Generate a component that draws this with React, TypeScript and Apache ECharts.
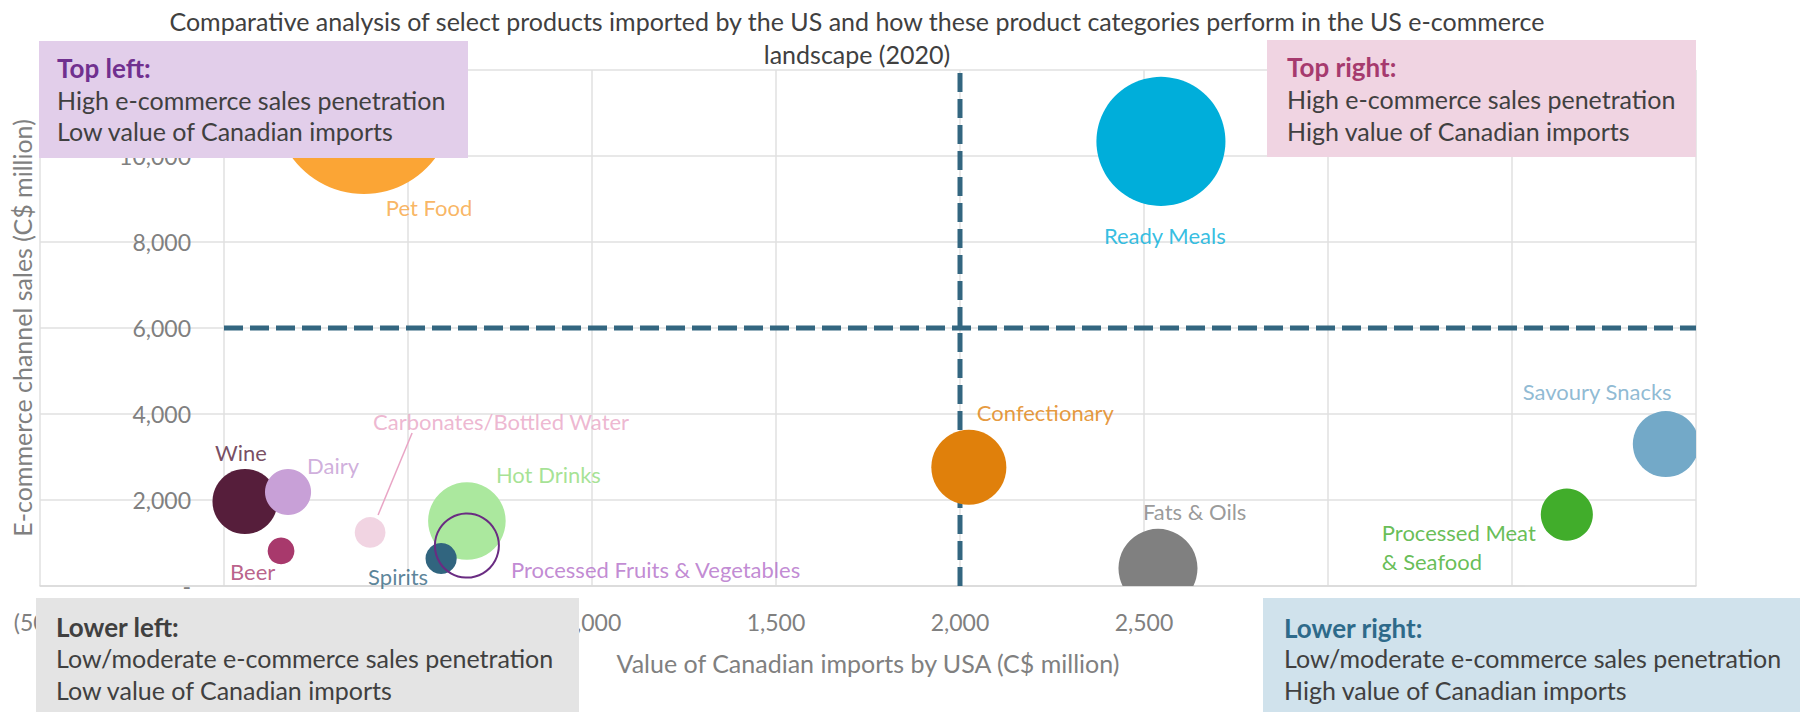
import React, { useEffect, useRef } from "react";
import * as echarts from "echarts";

// ---------- data ----------
const categories = [
  "Pet Food",
  "Ready Meals",
  "Confectionary",
  "Fats & Oils",
  "Savoury Snacks",
  "Processed Meat\n& Seafood",
  "Wine",
  "Dairy",
  "Beer",
  "Carbonates/Bottled Water",
  "Hot Drinks",
  "Spirits",
  "Processed Fruits & Vegetables",
];
// Value of Canadian imports by USA (C$ million)
const importsValue = [380, 2546, 2024, 2538, 3918, 3649, 57, 174, 155, 397, 660, 590, 660];
// E-commerce channel sales (C$ million)
const ecommerceSales = [11190, 10340, 2760, 410, 3300, 1660, 1965, 2185, 815, 1245, 1510, 640, 940];
// bubble size (relative)
const bubbleSize = [1240, 650, 220, 244, 170, 106, 165, 83, 28, 37, 235, 38, 160];

const xMin = -500;
const xMax = 4000;
const xStep = 500;
const yMin = 0;
const yMax = 12000;
const yStep = 2000;

// quadrant dividers
const dividerImports = 2000;
const dividerSales = 6000;

// ---------- styles ----------
const FONT = "Lato";
const bubbleColors = [
  "#FBA535", "#00AEDA", "#E0800B", "#808080", "#73A9C8", "#41AD2B",
  "#561E3B", "#C8A0D7", "#A8396C", "#F1D4E2", "#ABE89E", "#31657F", "none",
];
const bubbleOutline = "#6A2C82";
const labelColors = [
  "#F7A33C", "#00AEDA", "#E0800B", "#808080", "#73A9C8", "#41AD2B",
  "#561E3B", "#C39AD3", "#A8396C", "#E9A5C5", "#8FDB79", "#31657F", "#B26DC8",
];
// label offset from bubble centre: [left edge dx, vertical centre dy]
const labelOffsets: number[][] = [
  [22, 103], [-57, 94.5], [8, -54.5], [-15, -56.5], [-143, -53], [-185, 32],
  [-30, -49.5], [19, -27], [-51, 21], [3, -110.5], [29, -47], [-73, 18.5], [44, 23.5],
];

const fmt = (v: number) => {
  if (v === 0) return "-";
  const s = Math.abs(v).toLocaleString("en-US");
  return v < 0 ? `(${s})` : s;
};

const symbolScale = 5.06;

const boxes = [
  {
    x: 39, y: 41, w: 429, h: 117, fill: "#E2CEEA", tx: 57, ty: [68, 100, 131],
    head: "Top left:", headColor: "#70308F",
    lines: ["High e-commerce sales penetration", "Low value of Canadian imports"],
  },
  {
    x: 1267, y: 40, w: 429, h: 117, fill: "#F0D4E2", tx: 1287, ty: [67, 99, 131],
    head: "Top right:", headColor: "#A63A6E",
    lines: ["High e-commerce sales penetration", "High value of Canadian imports"],
  },
  {
    x: 36, y: 598, w: 543, h: 114, fill: "#E4E4E4", tx: 56, ty: [627, 658, 690],
    head: "Lower left:", headColor: "#404040",
    lines: ["Low/moderate e-commerce sales penetration", "Low value of Canadian imports"],
  },
  {
    x: 1263, y: 598, w: 537, h: 114, fill: "#D0E2EC", tx: 1284, ty: [628, 658, 690],
    head: "Lower right:", headColor: "#2E6A8A",
    lines: ["Low/moderate e-commerce sales penetration", "High value of Canadian imports"],
  },
];

export default function App() {
  const ref = useRef<HTMLDivElement>(null);

  useEffect(() => {
    if (!ref.current) return;
    const chart = echarts.init(ref.current, null, { renderer: "svg" });

    const bubbleData = categories.map((c, i) => ({
      name: c,
      value: [importsValue[i], ecommerceSales[i], bubbleSize[i]],
    }));

    const labelData = categories.map((c, i) => ({
      name: c,
      value: [importsValue[i], ecommerceSales[i]],
      label: {
        color: labelColors[i],
        offset: labelOffsets[i],
      },
    }));

    const option: any = {
      animation: false,
      title: {
        text:
          "Comparative analysis of select products imported by the US and how these product categories perform in the US e-commerce\nlandscape (2020)",
        left: 857,
        top: 4,
        padding: 0,
        textAlign: "center",
        textStyle: {
          fontFamily: FONT,
          fontSize: 25,
          fontWeight: "normal",
          color: "#404040",
          lineHeight: 33,
        },
      },
      grid: {
        left: 40,
        top: 70,
        width: 1656,
        height: 516,
        containLabel: false,
        outerBoundsMode: "none",
      },
      xAxis: {
        type: "value",
        min: xMin,
        max: xMax,
        interval: xStep,
        name: "Value of Canadian imports by USA (C$ million)",
        nameLocation: "middle",
        nameGap: 64,
        nameTextStyle: { fontFamily: FONT, fontSize: 25, color: "#808080" },
        axisLine: { show: true, onZero: false, lineStyle: { color: "#D9D9D9", width: 1.5 } },
        axisTick: { show: false },
        axisLabel: {
          formatter: fmt,
          fontFamily: FONT,
          fontSize: 23,
          color: "#808080",
          margin: 24,
        },
        splitLine: { show: true, lineStyle: { color: "#E0E0E0", width: 1.5 } },
      },
      yAxis: {
        type: "value",
        min: yMin,
        max: yMax,
        interval: yStep,
        offset: -184,
        name: "E-commerce channel sales (C$ million)",
        nameLocation: "middle",
        nameGap: 190,
        nameTextStyle: { fontFamily: FONT, fontSize: 25, color: "#808080" },
        axisLine: { show: false, onZero: false },
        axisTick: { show: false },
        axisLabel: {
          formatter: fmt,
          fontFamily: FONT,
          fontSize: 23,
          color: "#808080",
          margin: 33,
        },
        splitLine: { show: true, lineStyle: { color: "#E0E0E0", width: 1.5 } },
      },
      series: [
        {
          type: "line",
          z: 1,
          silent: true,
          symbol: "none",
          data: [
            [dividerImports, yMin],
            [dividerImports, yMax],
          ],
          lineStyle: { color: "#336680", width: 5, type: [19, 7], cap: "butt" },
        },
        {
          type: "line",
          z: 1,
          silent: true,
          symbol: "none",
          data: [
            [0, dividerSales],
            [xMax, dividerSales],
          ],
          lineStyle: { color: "#336680", width: 5, type: [19, 7], cap: "butt" },
        },
        {
          type: "custom",
          z: 2,
          silent: true,
          clip: true,
          encode: { x: 0, y: 1 },
          data: bubbleData,
          renderItem: (params: any, api: any) => {
            const pt = api.coord([api.value(0), api.value(1)]);
            const r = (Math.sqrt(api.value(2)) * symbolScale) / 2;
            const i = params.dataIndex;
            const fill = bubbleColors[i];
            return {
              type: "circle",
              shape: { cx: pt[0], cy: pt[1], r },
              style:
                fill === "none"
                  ? { fill: "none", stroke: bubbleOutline, lineWidth: 2 }
                  : { fill },
            };
          },
        },
        {
          type: "scatter",
          z: 3,
          silent: true,
          clip: false,
          symbol: "circle",
          symbolSize: 1,
          itemStyle: { color: "rgba(0,0,0,0)" },
          label: {
            show: true,
            position: "inside",
            align: "left",
            verticalAlign: "middle",
            formatter: (p: any) => p.name,
            fontFamily: FONT,
            fontSize: 22,
            lineHeight: 29,
          },
          data: labelData,
        },
      ],
    };

    chart.setOption(option);

    const ci = categories.indexOf("Carbonates/Bottled Water");
    const p = chart.convertToPixel({ gridIndex: 0 }, [importsValue[ci], ecommerceSales[ci]]) as number[];

    const elements: any[] = [];
    elements.push({
      type: "line",
      id: "leader",
      z: 50,
      silent: true,
      shape: { x1: p[0] + 42, y1: p[1] - 99.5, x2: p[0] + 8, y2: p[1] - 17.5 },
      style: { stroke: "#E9A5C5", lineWidth: 1.5 },
    });
    boxes.forEach((b, bi) => {
      elements.push({
        type: "rect",
        id: `box${bi}`,
        z: 100,
        silent: true,
        shape: { x: b.x, y: b.y, width: b.w, height: b.h },
        style: { fill: b.fill },
      });
      elements.push({
        type: "text",
        id: `head${bi}`,
        z: 101,
        silent: true,
        x: b.tx,
        y: b.ty[0],
        style: {
          text: b.head,
          fill: b.headColor,
          font: `bold 26px ${FONT}`,
          align: "left",
          verticalAlign: "middle",
        },
      });
      b.lines.forEach((ln, li) => {
        elements.push({
          type: "text",
          id: `line${bi}_${li}`,
          z: 101,
          silent: true,
          x: b.tx,
          y: b.ty[li + 1],
          style: {
            text: ln,
            fill: "#404040",
            font: `25px ${FONT}`,
            align: "left",
            verticalAlign: "middle",
          },
        });
      });
    });

    chart.setOption({ graphic: { elements } });

    return () => chart.dispose();
  }, []);

  return (
    <div
      ref={ref}
      style={{ position: "fixed", left: 0, top: 0, width: 1800, height: 712, background: "#fff" }}
    />
  );
}
